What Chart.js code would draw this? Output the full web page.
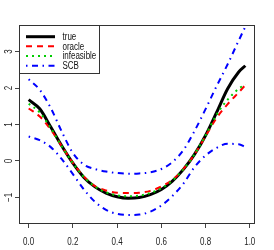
<!DOCTYPE html>
<html>
<head>
<meta charset="utf-8">
<script src="https://cdn.jsdelivr.net/npm/chart.js@4/dist/chart.umd.min.js"></script>
<style>
  html, body { margin: 0; padding: 0; background: #ffffff; }
  #wrap { width: 274px; height: 250px; }
</style>
</head>
<body>
<div id="wrap"><canvas id="chart" width="274" height="250"></canvas></div>
<script>
const xValues = [0, 0.05, 0.1, 0.15, 0.2, 0.25, 0.3, 0.35, 0.4, 0.45, 0.5, 0.55, 0.6, 0.65, 0.7, 0.75, 0.8, 0.85, 0.9, 0.95, 0.98];

const trueValues = [1.68, 1.43, 0.93, 0.41, -0.06, -0.45, -0.71, -0.88, -0.98, -1.02, -1.00, -0.92, -0.78, -0.55, -0.23, 0.18, 0.70, 1.33, 1.98, 2.44, 2.61];
const oracleValues = [1.44, 1.22, 0.86, 0.40, -0.05, -0.43, -0.69, -0.81, -0.87, -0.88, -0.87, -0.82, -0.70, -0.52, -0.22, 0.18, 0.68, 1.18, 1.56, 1.88, 2.08];
const infeasibleValues = [1.57, 1.33, 0.90, 0.40, -0.06, -0.44, -0.70, -0.86, -0.94, -0.97, -0.95, -0.88, -0.75, -0.54, -0.22, 0.18, 0.70, 1.27, 1.68, 1.98, 2.10];
const scbUpperValues = [2.24, 1.95, 1.45, 0.80, 0.22, -0.10, -0.22, -0.29, -0.33, -0.35, -0.34, -0.31, -0.22, -0.03, 0.30, 0.82, 1.42, 2.05, 2.65, 3.30, 3.68];
const scbLowerValues = [0.67, 0.57, 0.38, 0.05, -0.36, -0.78, -1.12, -1.34, -1.45, -1.48, -1.47, -1.39, -1.22, -0.96, -0.62, -0.17, 0.15, 0.36, 0.47, 0.46, 0.38];

const xTicks = [0, 0.2, 0.4, 0.6, 0.8, 1.0];
const xTickLabels = ["0.0", "0.2", "0.4", "0.6", "0.8", "1.0"];
const yTicks = [-1, 0, 1, 2, 3];
const yTickLabels = ["\u22121", "0", "1", "2", "3"];
const legendLabels = ["true", "oracle", "infeasible", "SCB"];

const TEXT_FONT = "10px 'Liberation Sans', Arial, sans-serif";
const TEXT_SQUEEZE = 0.8;

function toPoints(values) {
  return values.map((y, i) => ({ x: xValues[i], y }));
}

function drawText(ctx, text, x, y, rotate) {
  ctx.save();
  ctx.translate(x, y);
  if (rotate) {
    ctx.rotate(-Math.PI / 2);
  }
  ctx.scale(TEXT_SQUEEZE, 1);
  ctx.fillText(text, 0, 0);
  ctx.restore();
}

const frame = {
  id: "frame",
  afterDraw(chart) {
    const { ctx, chartArea, scales } = chart;
    const { left, right, top, bottom } = chartArea;

    ctx.save();
    ctx.strokeStyle = "#333333";
    ctx.lineWidth = 1;
    ctx.strokeRect(left - 0.5, top - 0.5, right - left + 1, bottom - top + 1);

    // tick labels, placed by the scales
    ctx.fillStyle = "#222222";
    ctx.font = TEXT_FONT;
    ctx.textAlign = "center";
    ctx.textBaseline = "middle";
    xTicks.forEach((v, i) => drawText(ctx, xTickLabels[i], scales.x.getPixelForValue(v), 242, false));
    yTicks.forEach((v, i) => drawText(ctx, yTickLabels[i], 9, scales.y.getPixelForValue(v), true));

    // legend box in the top-left corner
    const boxRight = 100;
    const boxBottom = 74;
    ctx.fillStyle = "#ffffff";
    ctx.fillRect(left - 0.5, top - 0.5, boxRight - left, boxBottom - top);
    ctx.strokeStyle = "#333333";
    ctx.setLineDash([]);
    ctx.strokeRect(left - 0.5, top - 0.5, boxRight - left, boxBottom - top);

    const rows = [36.7, 46.3, 56, 65.7];
    legendLabels.forEach((label, i) => {
      const ds = chart.data.datasets[i];
      ctx.save();
      ctx.strokeStyle = ds.borderColor;
      ctx.lineWidth = ds.borderWidth;
      ctx.lineCap = "butt";
      ctx.setLineDash(ds.borderDash || []);
      ctx.beginPath();
      ctx.moveTo(26, rows[i]);
      ctx.lineTo(55, rows[i]);
      ctx.stroke();
      ctx.restore();

      ctx.fillStyle = "#111111";
      ctx.textAlign = "left";
      ctx.font = TEXT_FONT;
      drawText(ctx, label, 62.5, rows[i] + 0.5, false);
    });
    ctx.restore();
  }
};

const axisGrid = {
  display: true,
  drawOnChartArea: false,
  drawTicks: true,
  tickLength: 5,
  color: "#444444",
  lineWidth: 1
};

new Chart(document.getElementById("chart"), {
  type: "line",
  data: {
    datasets: [
      {
        label: legendLabels[0],
        data: toPoints(trueValues),
        borderColor: "#000000",
        borderWidth: 3,
        order: 5
      },
      {
        label: legendLabels[1],
        data: toPoints(oracleValues),
        borderColor: "#ff0000",
        borderWidth: 2,
        borderDash: [6, 5],
        order: 4
      },
      {
        label: legendLabels[2],
        data: toPoints(infeasibleValues),
        borderColor: "#00cd00",
        borderWidth: 2,
        borderDash: [2, 4],
        order: 3
      },
      {
        label: legendLabels[3],
        data: toPoints(scbUpperValues),
        borderColor: "#0000ff",
        borderWidth: 2,
        borderDash: [1.5, 4.5, 6, 4.5],
        order: 2
      },
      {
        label: "SCB lower",
        data: toPoints(scbLowerValues),
        borderColor: "#0000ff",
        borderWidth: 2,
        borderDash: [1.5, 4.5, 6, 4.5],
        order: 1
      }
    ]
  },
  options: {
    responsive: false,
    animation: false,
    devicePixelRatio: 1,
    layout: { padding: { top: 26, right: 20, left: 0, bottom: 0 } },
    elements: {
      point: { radius: 0 },
      line: { cubicInterpolationMode: "monotone", borderCapStyle: "butt", fill: false }
    },
    plugins: {
      legend: { display: false },
      tooltip: { enabled: false }
    },
    scales: {
      x: {
        type: "linear",
        min: -0.0392,
        max: 1.0192,
        grid: axisGrid,
        border: { display: false },
        ticks: { display: false },
        afterBuildTicks: scale => { scale.ticks = xTicks.map(value => ({ value })); },
        afterFit: scale => { scale.height = 27; }
      },
      y: {
        type: "linear",
        min: -1.7,
        max: 3.7,
        grid: axisGrid,
        border: { display: false },
        ticks: { display: false },
        afterBuildTicks: scale => { scale.ticks = yTicks.map(value => ({ value })); },
        afterFit: scale => { scale.width = 20; }
      }
    }
  },
  plugins: [frame]
});
</script>
</body>
</html>
